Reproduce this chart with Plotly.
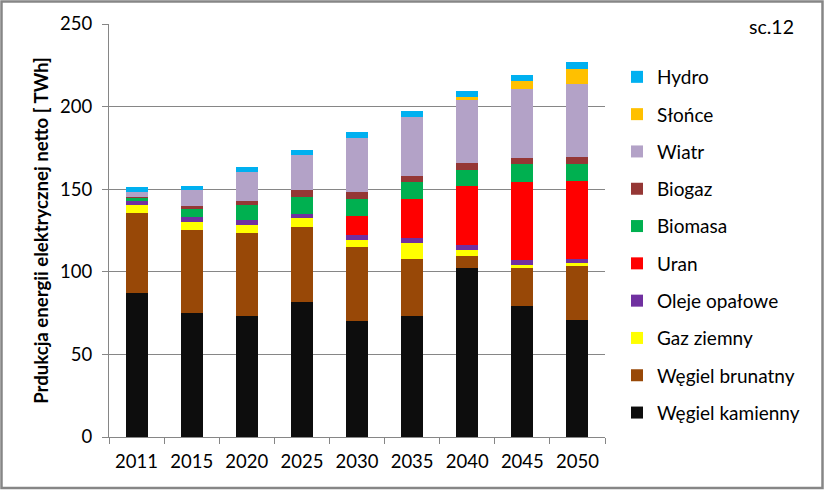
import plotly.graph_objects as go

years = ["2011", "2015", "2020", "2025", "2030", "2035", "2040", "2045", "2050"]

wegiel_kamienny = [87.2, 75.1, 73.2, 81.7, 70.2, 73.2, 102.3, 79.3, 70.8]
wegiel_brunatny = [48.4, 50.2, 50.3, 45.4, 44.8, 34.5, 7.3, 23.6, 32.7]
gaz_ziemny = [4.8, 4.8, 4.8, 5.5, 4.2, 9.7, 3.6, 1.2, 1.8]
oleje_opalowe = [2.5, 3.1, 3.1, 2.4, 3.1, 3.1, 3.0, 3.0, 2.4]
uran = [0, 0, 0, 0, 11.5, 23.6, 35.7, 47.3, 47.3]
biomasa = [1.8, 5.4, 9.0, 10.3, 10.3, 10.3, 9.7, 10.9, 10.3]
biogaz = [0.6, 1.2, 2.5, 4.2, 4.2, 3.6, 4.3, 3.6, 4.2]
wiatr = [3.0, 9.7, 17.5, 21.2, 32.7, 35.7, 38.1, 41.8, 44.2]
slonce = [0, 0, 0, 0, 0, 0, 1.8, 4.8, 9.1]
hydro = [3.0, 2.4, 3.0, 3.0, 3.6, 3.6, 3.6, 3.6, 4.2]

series = [
    ("Węgiel kamienny", wegiel_kamienny, "#0d0d0d"),
    ("Węgiel brunatny", wegiel_brunatny, "#984807"),
    ("Gaz ziemny", gaz_ziemny, "#ffff00"),
    ("Oleje opałowe", oleje_opalowe, "#7030a0"),
    ("Uran", uran, "#ff0000"),
    ("Biomasa", biomasa, "#00b050"),
    ("Biogaz", biogaz, "#953735"),
    ("Wiatr", wiatr, "#b3a2c7"),
    ("Słońce", slonce, "#ffc000"),
    ("Hydro", hydro, "#00b0f0"),
]

FONT = "Lato"
fig = go.Figure()
n = len(series)
for i, (name, vals, col) in enumerate(series):
    fig.add_trace(go.Bar(x=years, y=vals, name=name, marker=dict(color=col, line=dict(width=0)),
                         legendgroup=name, legendrank=n - i))

W, H = 825, 491
ml, mr, mt, mb = 109, 220, 24, 54
pw, ph = W - ml - mr, H - mt - mb

def px(x):
    return (x - ml) / pw

def py(y):
    return (H - mb - y) / ph

fig.update_layout(
    width=W, height=H,
    margin=dict(l=ml, r=mr, t=mt, b=mb, pad=0, autoexpand=False),
    barmode="stack", bargap=0.6,
    plot_bgcolor="white", paper_bgcolor="white",
    font=dict(family=FONT, size=18, color="#000000"),
    legend=dict(traceorder="grouped", tracegroupgap=9.6, x=px(617), y=py(58), xanchor="left", yanchor="top",
                font=dict(family=FONT, size=19), bgcolor="rgba(0,0,0,0)"),
    xaxis=dict(showline=True, linecolor="#868686", linewidth=1, ticks="outside", tickson="boundaries",
               ticklen=6, tickcolor="#868686", tickfont=dict(size=18.5), showgrid=False, ticklabelstandoff=8),
    yaxis=dict(range=[0, 250], dtick=50, showline=True, linecolor="#868686", linewidth=1, ticks="outside",
               ticklen=6, tickcolor="#868686", gridcolor="#868686", gridwidth=1, tickfont=dict(size=18.5),
               ticklabelstandoff=6,
               title=dict(text="<b>Prdukcja energii elektrycznej netto [ TWh]</b>", font=dict(size=18.6), standoff=6),
               zeroline=False),
    shapes=[dict(type="rect", xref="paper", yref="paper", x0=px(1.5), x1=px(822.5), y0=py(488), y1=py(1.5),
                 line=dict(color="#868686", width=2.5), fillcolor="rgba(0,0,0,0)", layer="above")],
    annotations=[dict(text="sc.12", xref="paper", yref="paper", x=px(771), y=py(26), xanchor="center",
                      yanchor="middle", showarrow=False, font=dict(family=FONT, size=19.5))],
)

fig.write_html("out.html", config={"displayModeBar": False},
               post_script="document.body.style.margin='0';document.body.style.overflow='hidden';")
